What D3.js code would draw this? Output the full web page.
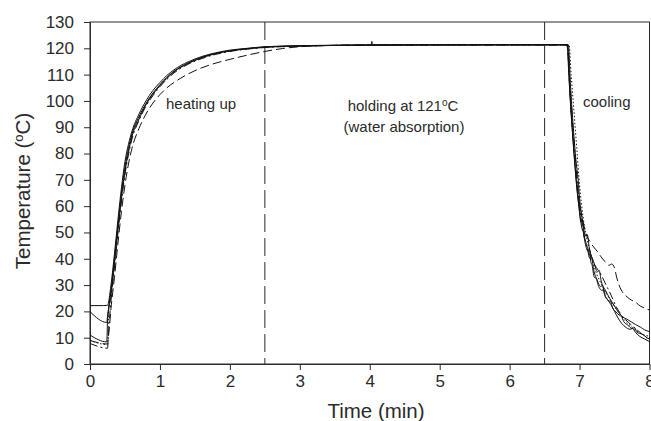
<!DOCTYPE html>
<html>
<head>
<meta charset="utf-8">
<script src="https://cdn.jsdelivr.net/npm/d3@7"></script>
<style>
	body { margin: 0; background: #fff; }
	text { font-family: 'Liberation Sans', Arial, sans-serif; fill: #2b2b2b; }
	.axis path, .axis line { stroke: #2b2b2b; }
	.axis text { font-size: 17px; }
</style>
</head>
<body>
<script>
// tick labels
const xTicks = [0, 1, 2, 3, 4, 5, 6, 7, 8]
const yTicks = [0, 10, 20, 30, 40, 50, 60, 70, 80, 90, 100, 110, 120, 130]
// phase borders (min)
const phaseLines = [2.5, 6.5]

// measured runs: [time (min), temperature (C)]
const run1 = [
	[0, 19.9], [0.24, 15.8], [0.25, 18], [0.3, 28], [0.35, 40], [0.4, 53], [0.45, 65], [0.5, 75], [0.55, 82],
	[0.6, 87.5], [0.7, 94], [0.8, 99], [0.9, 103], [1.0, 106.2], [1.1, 109], [1.2, 111.3], [1.3, 113], [1.4, 114.4],
	[1.6, 116.6], [1.8, 118.1], [2.0, 119.1], [2.25, 119.9], [2.5, 120.5], [3.0, 120.9], [3.5, 121.1], [4.0, 121.2],
	[5.0, 121.3], [6.0, 121.3], [6.82, 121.3], [6.85, 108], [6.88, 95], [6.92, 80], [6.96, 67], [7.0, 58], [7.03, 52],
	[7.06, 49.5], [7.08, 46], [7.12, 43], [7.14, 44], [7.16, 39], [7.18, 37.5], [7.21, 33], [7.24, 32.5], [7.26, 30.5],
	[7.32, 28], [7.35, 28.3], [7.37, 25.5], [7.42, 24], [7.45, 23.5], [7.47, 21.5], [7.52, 19.8], [7.57, 18.5],
	[7.6, 18], [7.63, 16.2], [7.69, 14.8], [7.75, 13.5], [7.79, 13.8], [7.82, 12], [7.9, 11.3], [7.97, 9.9], [8.0, 9.5]
]
const run2 = [
	[0, 22.2], [0.19, 22.2], [0.25, 22.3], [0.3, 30], [0.35, 42], [0.4, 55], [0.45, 67], [0.5, 77], [0.55, 83.5],
	[0.6, 88.5], [0.7, 95], [0.8, 100], [0.9, 104], [1.0, 107], [1.1, 109.7], [1.2, 111.8], [1.3, 113.5], [1.4, 114.8],
	[1.6, 116.9], [1.8, 118.3], [2.0, 119.3], [2.25, 120], [2.5, 120.6], [3.0, 121], [3.5, 121.2], [4.0, 121.3],
	[4.02, 121.3], [4.03, 122.6], [4.04, 121.3], [5.0, 121.3], [6.0, 121.4], [6.83, 121.4], [6.86, 104], [6.9, 88],
	[6.94, 74], [6.99, 60], [7.02, 54], [7.04, 55], [7.06, 49], [7.1, 45.5], [7.15, 40], [7.17, 40.8], [7.2, 36],
	[7.25, 32], [7.3, 29.5], [7.33, 29.8], [7.35, 27], [7.4, 24.5], [7.45, 22.5], [7.5, 20], [7.55, 17.5], [7.6, 15.5],
	[7.66, 14], [7.72, 13.2], [7.76, 13.5], [7.8, 12], [7.86, 10.5], [7.93, 9.5], [8.0, 8.5]
]
const run3 = [
	[0, 11], [0.24, 8.4], [0.25, 16], [0.3, 26], [0.35, 38], [0.4, 51], [0.45, 63], [0.5, 73], [0.55, 80.5],
	[0.6, 86.5], [0.7, 93], [0.8, 98.5], [0.9, 102.5], [1.0, 105.8], [1.1, 108.6], [1.2, 111], [1.3, 112.8], [1.4, 114.2],
	[1.6, 116.4], [1.8, 118], [2.0, 119], [2.25, 119.8], [2.5, 120.4], [3.0, 120.9], [3.5, 121.1], [4.0, 121.2],
	[5.0, 121.3], [6.0, 121.3], [6.84, 121.3], [6.87, 106], [6.91, 90], [6.95, 77], [6.98, 70], [7.0, 63], [7.04, 55],
	[7.09, 48.5], [7.11, 49.2], [7.14, 44], [7.2, 39], [7.26, 35], [7.28, 35.6], [7.31, 31.5], [7.37, 28], [7.43, 25],
	[7.5, 22], [7.56, 19.5], [7.62, 17.8], [7.68, 17], [7.74, 16], [7.8, 15], [7.87, 14], [7.93, 13], [8.0, 12.3]
]
const run4 = [
	[0, 9], [0.25, 7.6], [0.27, 12], [0.3, 21], [0.35, 33], [0.4, 46], [0.45, 58], [0.5, 68], [0.55, 76], [0.6, 82],
	[0.7, 89.5], [0.8, 95], [0.9, 99.2], [1.0, 102.4], [1.1, 105], [1.2, 107], [1.3, 108.7], [1.4, 110.2], [1.5, 111.5],
	[1.75, 114], [2.0, 115.8], [2.25, 117.4], [2.5, 118.8], [2.75, 119.9], [3.0, 120.6], [3.5, 121.1], [4.0, 121.3],
	[5.0, 121.3], [6.0, 121.3], [6.82, 121.3], [6.86, 105], [6.9, 88], [6.95, 72], [7.0, 61], [7.05, 54], [7.1, 49],
	[7.15, 46.5], [7.2, 44.5], [7.26, 42.6], [7.3, 41], [7.36, 39], [7.42, 37.5], [7.46, 38], [7.5, 36.5], [7.53, 33],
	[7.58, 29], [7.61, 27.5], [7.68, 25.5], [7.74, 24.3], [7.8, 23.5], [7.87, 22], [7.93, 21.3], [8.0, 20.5]
]
const run5 = [
	[0, 7.8], [0.25, 6], [0.27, 14], [0.3, 24], [0.35, 37], [0.4, 50], [0.45, 62], [0.5, 72], [0.55, 79.5], [0.6, 85.5],
	[0.7, 92.5], [0.8, 98], [0.9, 102], [1.0, 105.4], [1.1, 108.2], [1.2, 110.6], [1.3, 112.4], [1.4, 113.9],
	[1.6, 116.1], [1.8, 117.7], [2.0, 118.8], [2.25, 119.7], [2.5, 120.3], [3.0, 120.8], [3.5, 121.1], [4.0, 121.2],
	[5.0, 121.3], [6.0, 121.3], [6.82, 121.3], [6.86, 108], [6.9, 92], [6.95, 75], [7.0, 60], [7.05, 51], [7.1, 45],
	[7.2, 38.5], [7.31, 33.8], [7.38, 30], [7.45, 26.2], [7.52, 22], [7.6, 18.6], [7.7, 15.8], [7.79, 13.7],
	[7.9, 11.2], [8.0, 9.1]
]
const run6 = [
	[0, 8.9], [0.25, 7.4], [0.27, 22], [0.3, 27], [0.35, 39], [0.4, 52], [0.45, 64], [0.5, 74], [0.55, 81], [0.6, 87],
	[0.7, 93.5], [0.8, 98.8], [0.9, 102.8], [1.0, 106], [1.1, 108.8], [1.2, 111.1], [1.3, 112.9], [1.4, 114.3],
	[1.6, 116.5], [1.8, 118], [2.0, 119], [2.25, 119.8], [2.5, 120.4], [3.0, 120.9], [3.5, 121.1], [4.0, 121.2],
	[5.0, 121.3], [6.0, 121.3], [6.85, 121.3], [6.88, 110], [6.92, 96], [6.96, 82], [7.0, 68], [7.05, 56], [7.1, 48],
	[7.16, 42], [7.22, 36], [7.3, 31], [7.38, 27], [7.46, 23.5], [7.55, 20], [7.65, 16.5], [7.75, 14], [7.85, 12],
	[8.0, 10.5]
]

const runs = [
	{ values: run1, dash: null },
	{ values: run2, dash: null },
	{ values: run3, dash: null },
	{ values: run4, dash: '9,4' },
	{ values: run5, dash: '8,3,2,3' },
	{ values: run6, dash: '1.5,2' }
]

// afmetingen
const margin = { top: 22, bottom: 57, left: 90, right: 1.5 }
const fullWidth = 651
const fullHeight = 421
const width = fullWidth - margin.left - margin.right
const height = fullHeight - margin.top - margin.bottom

const svg = d3
	.select('body')
	.append('svg')
	.attr('width', fullWidth)
	.attr('height', fullHeight)

const g = svg.append('g').attr('transform', `translate(${margin.left},${margin.top})`)

const xscale = d3.scaleLinear().domain([0, 8]).range([0, width])
const yscale = d3.scaleLinear().domain([0, 130]).range([height, 0])

// frame
g.append('rect')
	.attr('width', width)
	.attr('height', height)
	.attr('fill', 'none')
	.attr('stroke', '#2b2b2b')

// axes
const xaxis = d3.axisBottom(xscale).tickValues(xTicks).tickSize(6).tickSizeOuter(0).tickPadding(5)
const yaxis = d3.axisLeft(yscale).tickValues(yTicks).tickSize(6).tickSizeOuter(0).tickPadding(10)
g.append('g').attr('class', 'x axis').attr('transform', `translate(0,${height})`).call(xaxis)
g.append('g').attr('class', 'y axis').call(yaxis)
g.selectAll('.axis text').attr('fill', '#2b2b2b').style('font-family', "'Liberation Sans', Arial, sans-serif")

// phase borders
g.selectAll('.phase')
	.data(phaseLines)
	.join('line')
	.attr('class', 'phase')
	.attr('x1', d => xscale(d))
	.attr('x2', d => xscale(d))
	.attr('y1', 0)
	.attr('y2', height)
	.attr('stroke', '#2b2b2b')
	.attr('stroke-width', 1)
	.attr('stroke-dasharray', '18,6')

// curves
const line = d3
	.line()
	.x(d => xscale(d[0]))
	.y(d => yscale(d[1]))
	.curve(d3.curveMonotoneX)

g.selectAll('.run')
	.data(runs)
	.join('path')
	.attr('class', 'run')
	.attr('d', d => line(d.values))
	.attr('fill', 'none')
	.attr('stroke', '#111')
	.attr('stroke-width', 1)
	.attr('stroke-dasharray', d => d.dash)

// phase labels
svg.append('text').attr('x', 166).attr('y', 109).style('font-size', '15px').text('heating up')

const hold = svg.append('text').attr('x', 403).attr('y', 110.5).attr('text-anchor', 'middle').style('font-size', '15px')
hold.append('tspan').text('holding at 121')
hold.append('tspan').attr('dy', -5).style('font-size', '10px').text('o')
hold.append('tspan').attr('dy', 5).text('C')

svg.append('text').attr('x', 404).attr('y', 131.5).attr('text-anchor', 'middle').style('font-size', '15px').text('(water absorption)')

svg.append('text').attr('x', 583).attr('y', 107).style('font-size', '15px').text('cooling')

// axis titles
svg.append('text')
	.attr('x', 376)
	.attr('y', 417.5)
	.attr('text-anchor', 'middle')
	.style('font-size', '20.5px')
	.text('Time (min)')

const ylabel = svg
	.append('text')
	.attr('transform', 'translate(30,191) rotate(-90)')
	.attr('text-anchor', 'middle')
	.style('font-size', '20.5px')
ylabel.append('tspan').text('Temperature (')
ylabel.append('tspan').attr('dy', -7).style('font-size', '13px').text('o')
ylabel.append('tspan').attr('dy', 7).text('C)')
</script>
</body>
</html>
